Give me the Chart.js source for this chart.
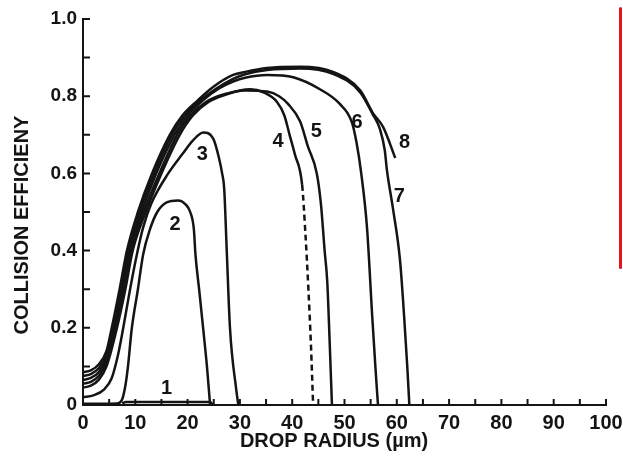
<!DOCTYPE html>
<html lang="en">
<head>
<meta charset="UTF-8" />
<title>Collision Efficiency vs Drop Radius</title>
<style>
  html, body { margin: 0; padding: 0; background: #fff; }
  #wrap { position: relative; width: 623px; height: 465px; }
  #redline {
    position: absolute; left: 619px; top: 7px;
    width: 3px; height: 262px;
    background: #e8141b; border-radius: 2px;
  }
</style>
<script src="https://cdn.jsdelivr.net/npm/chart.js"></script>
</head>
<body>
<div id="wrap">
  <canvas id="chart" width="623" height="465"></canvas>
  <div id="redline"></div>
</div>
<script>
  // drop radius (um) / collision efficiency, one pair per curve
  const r1 = [7.5, 8.2, 16, 24.3, 24.8];
  const e1 = [0.004, 0.008, 0.008, 0.008, 0.0];

  const r2 = [0, 6.5, 7.4, 8.1, 8.6, 9.3, 10.5, 11.5, 12.8, 14.2, 16, 18.2, 19.6, 20.5, 21.2, 21.5, 22.2, 23, 23.7, 24.3];
  const e2 = [0.003, 0.004, 0.012, 0.05, 0.1, 0.195, 0.3, 0.39, 0.455, 0.5, 0.525, 0.53, 0.52, 0.5, 0.455, 0.39, 0.3, 0.195, 0.1, 0.0];

  const r3 = [0, 2, 4, 5.5, 6.7, 7.7, 9, 10.3, 11.5, 13, 16.3, 19, 21, 23, 24.9, 26, 26.6, 27, 27.5, 28.1, 29.3, 29.7];
  const e3 = [0.02, 0.025, 0.04, 0.07, 0.13, 0.2, 0.3, 0.39, 0.46, 0.52, 0.6, 0.65, 0.685, 0.706, 0.69, 0.64, 0.6, 0.56, 0.395, 0.2, 0.04, 0.0];

  const r4 = [0, 1.5, 3, 4.5, 6.5, 8.1, 9.5, 12, 15, 18.5, 21, 24, 27.5, 30, 32, 34.5, 37.1, 38.5, 39.5, 40.5, 41.9, 42.5, 43.1, 43.6, 44];
  const e4 = [0.045, 0.05, 0.065, 0.1, 0.2, 0.3, 0.4, 0.5, 0.6, 0.7, 0.75, 0.785, 0.805, 0.815, 0.818, 0.81, 0.785, 0.75, 0.7, 0.65, 0.57, 0.45, 0.3, 0.15, 0.0];
  const dashFrom4 = 41.9;

  const r5 = [0, 1.5, 3, 4.5, 6.2, 7.8, 9.2, 11.6, 14.6, 18, 20.5, 23.5, 27, 31, 35.2, 37.5, 39.2, 41.5, 43, 44.7, 45.5, 46.2, 46.7, 47.2, 47.6];
  const e5 = [0.055, 0.06, 0.075, 0.11, 0.2, 0.3, 0.4, 0.5, 0.6, 0.7, 0.75, 0.785, 0.805, 0.815, 0.812, 0.8, 0.78, 0.735, 0.67, 0.6, 0.52, 0.4, 0.32, 0.15, 0.0];

  const r6 = [0, 1.5, 3, 4.5, 6, 7.5, 8.9, 11.2, 14, 17.5, 20, 23, 26, 28.7, 31, 35.2, 40.2, 45.3, 49.1, 51.4, 52.3, 53.2, 54.3, 55.3, 55.9, 56.4];
  const e6 = [0.065, 0.07, 0.085, 0.12, 0.2, 0.3, 0.4, 0.5, 0.6, 0.7, 0.75, 0.79, 0.82, 0.838, 0.848, 0.855, 0.849, 0.818, 0.78, 0.733, 0.68, 0.6, 0.46, 0.23, 0.1, 0.0];

  const r7 = [0, 1.5, 3, 4.5, 5.7, 7.2, 8.6, 10.8, 13.6, 17, 19.5, 22.5, 25.5, 28.7, 31, 35.2, 41.5, 47.8, 53, 55.4, 56.8, 57.7, 58.1, 59.3, 60.6, 61.4, 62, 62.4];
  const e7 = [0.075, 0.08, 0.095, 0.13, 0.2, 0.3, 0.4, 0.5, 0.6, 0.7, 0.75, 0.79, 0.82, 0.845, 0.857, 0.868, 0.872, 0.858, 0.81, 0.753, 0.714, 0.66, 0.61, 0.506, 0.377, 0.23, 0.1, 0.0];

  const r8 = [0, 1.5, 3, 4.5, 5.5, 7, 8.4, 10.5, 13.2, 16.6, 19, 22, 25, 28.7, 31, 35.2, 41.5, 47.8, 53, 55.4, 57.4, 59.7];
  const e8 = [0.085, 0.09, 0.105, 0.14, 0.2, 0.3, 0.4, 0.5, 0.6, 0.7, 0.75, 0.79, 0.825, 0.855, 0.863, 0.873, 0.876, 0.863, 0.815, 0.757, 0.72, 0.64];

  // curve numbers and where they sit (data units)
  const curveNames = ['1', '2', '3', '4', '5', '6', '7', '8'];
  const labelR = [16, 17.6, 22.8, 37.3, 44.6, 52.4, 60.5, 61.5];
  const labelE = [0.042, 0.468, 0.65, 0.683, 0.708, 0.732, 0.541, 0.68];

  const FONT = '"Liberation Sans", Arial, sans-serif';
  const INK = '#141414';

  const pts = (r, e) => r.map((v, i) => ({ x: v, y: e[i] }));

  function curve(r, e, extra) {
    return Object.assign({
      data: pts(r, e),
      showLine: true,
      borderColor: INK,
      borderWidth: 2.5,
      pointRadius: 0,
      fill: false,
      cubicInterpolationMode: 'monotone'
    }, extra || {});
  }

  // inward tick marks, curve numbers and axis titles
  const extras = {
    id: 'extras',
    afterDraw(chart) {
      const { ctx, chartArea: a, scales: { x, y } } = chart;
      ctx.save();
      ctx.strokeStyle = INK;
      ctx.lineWidth = 2;
      ctx.beginPath();
      x.ticks.forEach(t => {
        const px = x.getPixelForValue(t.value);
        ctx.moveTo(px, a.bottom);
        ctx.lineTo(px, a.bottom - 6);
      });
      y.ticks.forEach(t => {
        const py = y.getPixelForValue(t.value);
        ctx.moveTo(a.left, py);
        ctx.lineTo(a.left + 7, py);
      });
      ctx.stroke();

      ctx.fillStyle = INK;
      ctx.textAlign = 'center';
      ctx.textBaseline = 'middle';
      ctx.font = 'bold 20px ' + FONT;
      curveNames.forEach((n, i) => {
        ctx.fillText(n, x.getPixelForValue(labelR[i]), y.getPixelForValue(labelE[i]));
      });

      ctx.fillText('DROP RADIUS (µm)', a.left + 251, a.bottom + 36);
      ctx.translate(22, a.top + 206);
      ctx.rotate(-Math.PI / 2);
      ctx.fillText('COLLISION EFFICIENY', 0, 0);
      ctx.restore();
    }
  };

  new Chart(document.getElementById('chart'), {
    type: 'scatter',
    data: {
      datasets: [
        curve(r1, e1),
        curve(r2, e2),
        curve(r3, e3),
        curve(r4, e4, {
          segment: { borderDash: c => c.p0.parsed.x >= dashFrom4 - 0.01 ? [6, 4] : undefined }
        }),
        curve(r5, e5),
        curve(r6, e6),
        curve(r7, e7),
        curve(r8, e8)
      ]
    },
    options: {
      responsive: false,
      animation: false,
      layout: { padding: { top: 19, right: 0, left: 0, bottom: 0 } },
      plugins: { legend: { display: false }, tooltip: { enabled: false } },
      scales: {
        x: {
          type: 'linear',
          min: 0, max: 100,
          afterFit: s => { s.height = 60; s.paddingRight = 17; },
          grid: { display: false, drawTicks: false },
          border: { display: true, color: INK, width: 2 },
          ticks: {
            stepSize: 5,
            padding: 6,
            autoSkip: false,
            maxRotation: 0,
            minRotation: 0,
            color: INK,
            font: { family: FONT, size: 20, weight: 'bold' },
            callback: v => (v % 10 === 0 ? String(v) : '')
          }
        },
        y: {
          type: 'linear',
          min: 0, max: 1,
          afterFit: s => { s.width = 83; },
          grid: { display: false, drawTicks: false },
          border: { display: true, color: INK, width: 2 },
          ticks: {
            stepSize: 0.1,
            padding: 6,
            color: INK,
            font: { family: FONT, size: 19, weight: 'bold' },
            callback: v => {
              const k = Math.round(v * 10);
              if (k % 2 !== 0) return '';
              return k === 0 ? '0' : (k / 10).toFixed(1);
            }
          }
        }
      }
    },
    plugins: [extras]
  });
</script>
</body>
</html>
